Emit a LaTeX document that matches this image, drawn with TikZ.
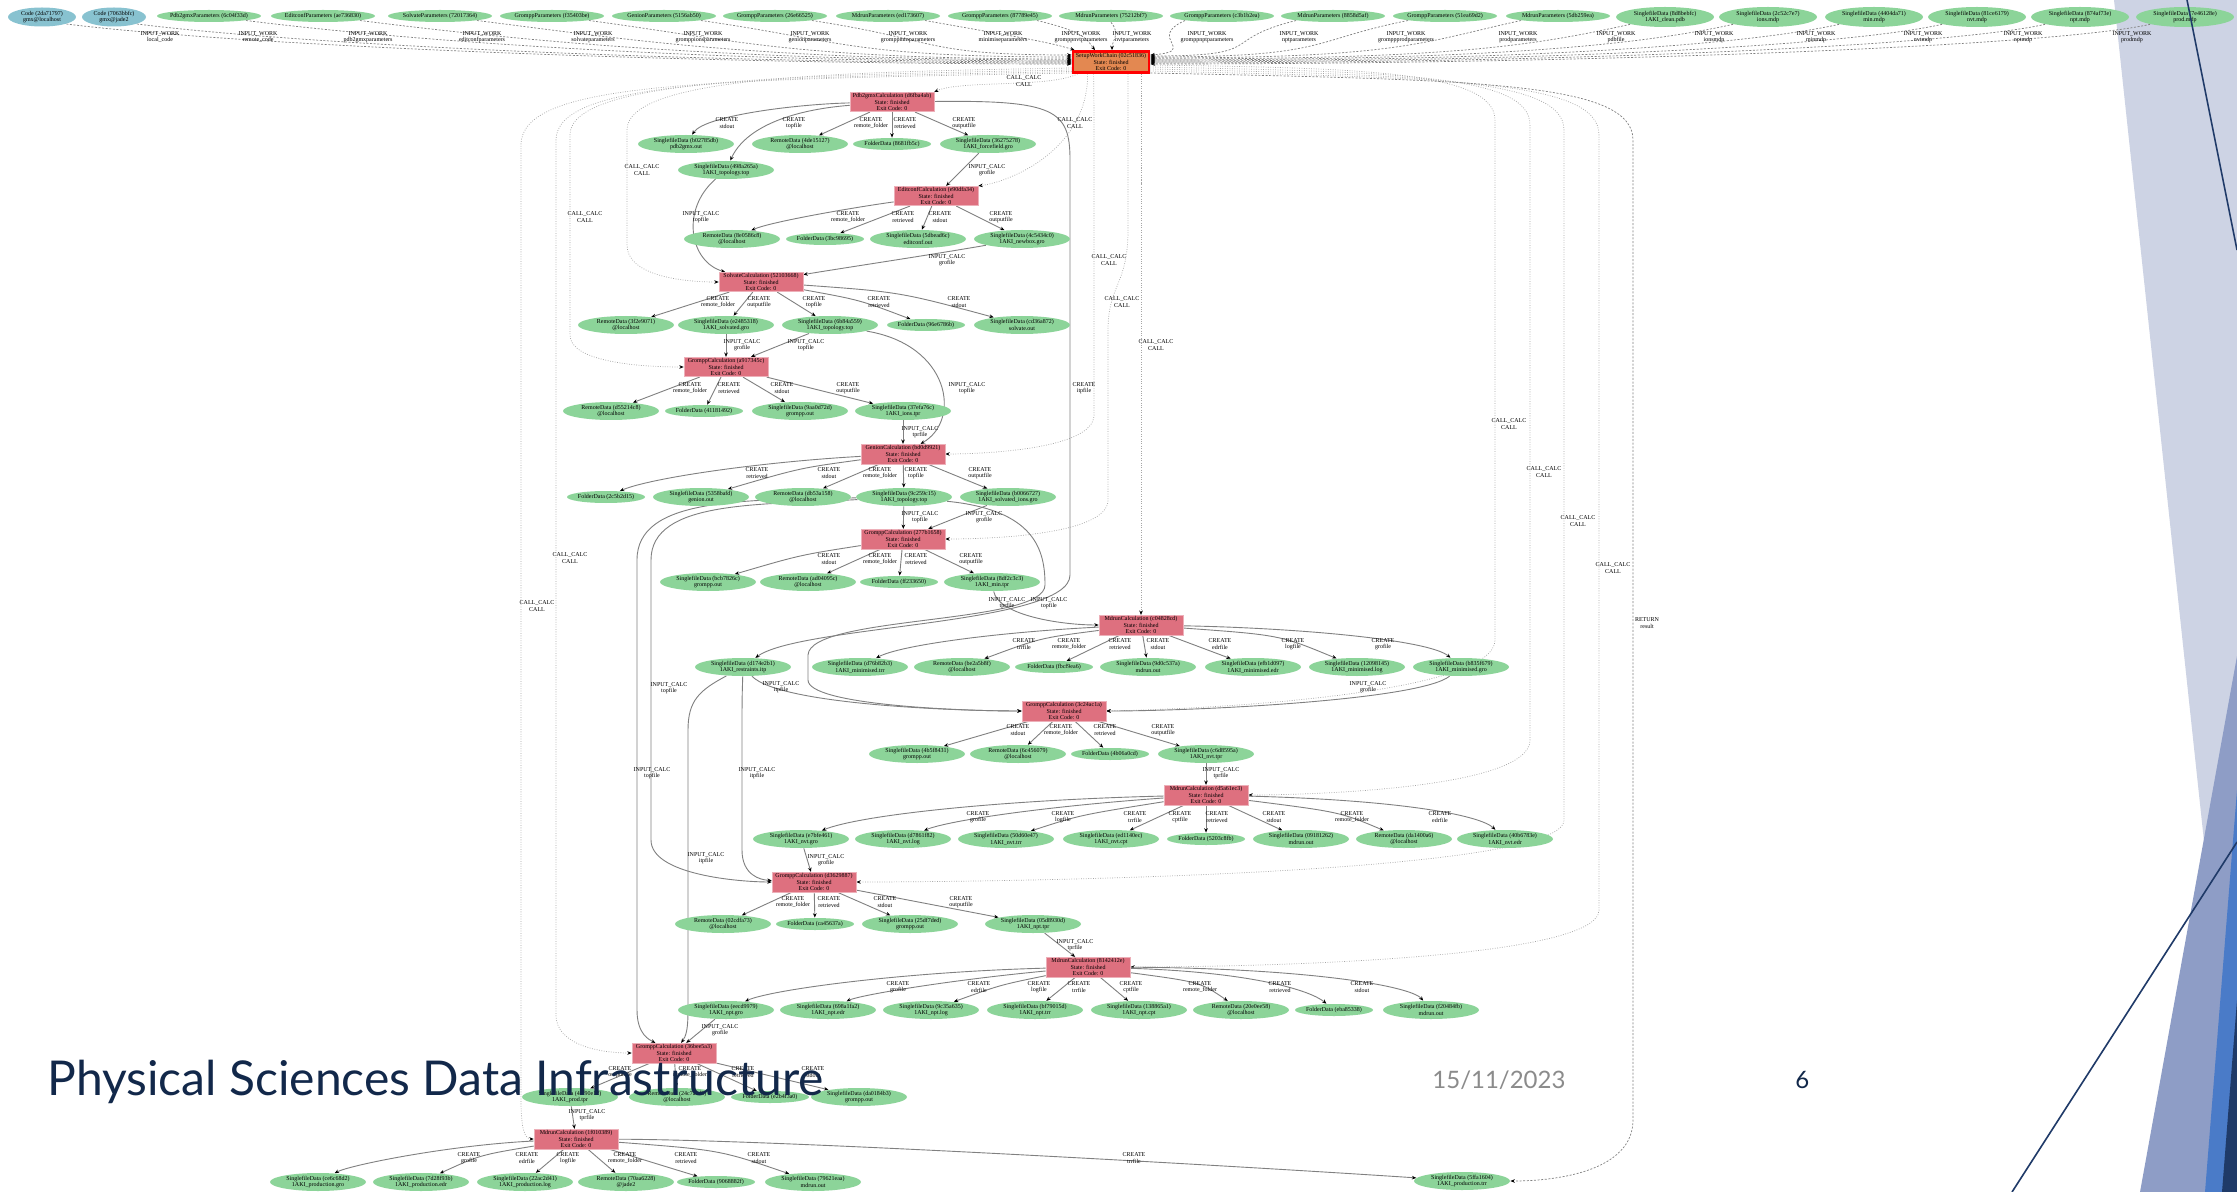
\documentclass[tikz,border=0pt]{standalone}
\usepackage{fontspec}
\setmainfont{Liberation Serif}
\newfontfamily\latofont{Lato}
\usetikzlibrary{arrows.meta,calc,shapes.geometric}
\pgfdeclarelayer{deco}
\pgfdeclarelayer{edges}
\pgfsetlayers{deco,edges,main}
\definecolor{datg}{HTML}{8CD499}
\definecolor{calcr}{HTML}{DE707F}
\definecolor{wforg}{HTML}{E38851}
\definecolor{codeb}{HTML}{88C2D0}
\definecolor{navy}{HTML}{12284A}
\definecolor{lav}{HTML}{CDD3E4}
\definecolor{steel}{HTML}{8E9DC6}
\definecolor{brblue}{HTML}{4A7BC8}
\definecolor{dnavy}{HTML}{1F3A68}
\definecolor{dategray}{HTML}{8B8B8B}
\newcommand\gf{\fontsize{3}{3.3}\selectfont}
\newcommand\datN[4]{\node[dat] (#1) at (#2) {#3\\#4};}
\newcommand\foldN[3]{\node[dat1] (#1) at (#2) {#3};}
\newcommand\calcN[3]{\node[calcbox] (#1) at (#2) {#3\\State: finished\\Exit Code: 0};}
\newcommand\labC[3]{\node[lbl] (#1) at (#2) {CREATE\\#3};}
\newcommand\labI[3]{\node[lbl] (#1) at (#2) {INPUT\_CALC\\#3};}
\newcommand\labW[3]{\node[lbl] (#1) at (#2) {INPUT\_WORK\\#3};}
\newcommand\labK[2]{\node[lbl] (#1) at (#2) {CALL\_CALC\\CALL};}
\tikzset{
  dat/.style={ellipse,fill=datg,draw=none,inner ysep=0pt,inner xsep=-3pt,minimum width=48pt,minimum height=9pt,align=center,font=\gf},
  dat1/.style={dat,minimum width=39pt,minimum height=6pt},
  parnode/.style={dat,inner xsep=-4pt,minimum width=52pt,minimum height=6pt},
  tfile/.style={dat,minimum width=49pt,minimum height=10pt},
  codenode/.style={dat,fill=codeb,minimum width=34pt,minimum height=9.5pt},
  calcbox/.style={rectangle,fill=calcr,draw=calcr!55!white,line width=0.3pt,inner sep=0pt,minimum width=42pt,minimum height=9.8pt,align=center,font=\gf},
  wfbox/.style={rectangle,fill=wforg,draw=red,line width=1.4pt,inner sep=0pt,minimum width=38pt,minimum height=10.5pt,align=center,font=\gf},
  lbl/.style={inner sep=0pt,align=center,font=\gf},
  arrtip/.style={-{Stealth[length=2.2pt,width=1.8pt,color=black]}},
  cr/.style={arrtip,draw=black!50,line width=0.45pt},
  wk/.style={arrtip,draw=black!50,line width=0.35pt,dash pattern=on 1pt off 0.8pt},
  cl/.style={arrtip,draw=black!35,line width=0.35pt,dash pattern=on 0.4pt off 0.8pt},
}
\begin{document}
\begin{tikzpicture}[x=0.5pt,y=-0.5pt]
\useasboundingbox (0,0) rectangle (2237,1192);
\begin{pgfonlayer}{deco}
\fill[white] (0,0) rectangle (2237,1192);
\fill[lav] (2114,0) -- (2237,0) -- (2237,1150) -- cycle;
\fill[steel] (2140,1192) -- (2237,656) -- (2237,1192) -- cycle;
\fill[brblue] (2205,1192) -- (2237,790) -- (2237,1192) -- cycle;
\fill[dnavy] (2222,1192) -- (2237,1000) -- (2237,1192) -- cycle;
\end{pgfonlayer}

% ---------- top row ----------
\node[codenode] (t1) at (42,17) {Code (2da71797)\\gmx@localhost};
\node[codenode,minimum width=32pt] (t2) at (114,17) {Code (7063bbfc)\\gmx@jade2};
\node[parnode] (t3) at (209,16) {Pdb2gmxParameters (6c04f33d)};
\node[parnode] (t4) at (323,16) {EditconfParameters (ae736830)};
\node[parnode] (t5) at (440,16) {SolvateParameters (72017364)};
\node[parnode] (t6) at (552,16) {GromppParameters (f35403be)};
\node[parnode] (t7) at (664,16) {GenionParameters (5156ab50)};
\node[parnode] (t8) at (775,16) {GromppParameters (26e66525)};
\node[parnode] (t9) at (888,16) {MdrunParameters (ed173607)};
\node[parnode] (t10) at (1000,16) {GromppParameters (87789e45)};
\node[parnode] (t11) at (1111,16) {MdrunParameters (75212bf7)};
\node[parnode] (t12) at (1222,16) {GromppParameters (c3b1b2ea)};
\node[parnode] (t13) at (1333,16) {MdrunParameters (8858d5af)};
\node[parnode] (t14) at (1445,16) {GromppParameters (51ea69d2)};
\node[parnode] (t15) at (1558,16) {MdrunParameters (5db259ea)};
\node[tfile] (t16) at (1665,17) {SinglefileData (8d8bebfc)\\1AKI\_clean.pdb};
\node[tfile] (t17) at (1768,17) {SinglefileData (2c52c7e7)\\ions.mdp};
\node[tfile] (t18) at (1874,17) {SinglefileData (4404da71)\\min.mdp};
\node[tfile] (t19) at (1977,17) {SinglefileData (81ce6179)\\nvt.mdp};
\node[tfile] (t20) at (2080,17) {SinglefileData (874af73e)\\npt.mdp};
\node[tfile] (t21) at (2185,17) {SinglefileData (7e46128e)\\prod.mdp};

\node[wfbox] (sw) at (1111,62) {SetupWorkChain (02c51836)\\State: finished\\Exit Code: 0};

\labW{w1}{160,37}{local\_code}
\labW{w2}{258,37}{remote\_code}
\labW{w3}{368,37}{pdb2gmxparameters}
\labW{w4}{482,37}{editconfparameters}
\labW{w5}{593,37}{solvateparameters}
\labW{w6}{703,37}{gromppionsparameters}
\labW{w7}{810,37}{genionparameters}
\labW{w8}{908,37}{gromppminparameters}
\labW{w9}{1003,37}{minimiseparameters}
\labW{w10}{1081,37}{gromppnvtparameters}
\labW{w11}{1132,37}{nvtparameters}
\labW{w12}{1207,37}{gromppnptparameters}
\labW{w13}{1299,37}{nptparameters}
\labW{w14}{1406,37}{gromppprodparameters}
\labW{w15}{1518,37}{prodparameters}
\labW{w16}{1616,37}{pdbfile}
\labW{w17}{1714,37}{ionsmdp}
\labW{w18}{1816,37}{minmdp}
\labW{w19}{1923,37}{nvtmdp}
\labW{w20}{2023,37}{nptmdp}
\labW{w21}{2132,37}{prodmdp}

% ---------- pdb2gmx ----------
\calcN{pdb}{892,102}{Pdb2gmxCalculation (d6fba4ab)}
\datN{pout}{686,144}{SinglefileData (b02785db)}{pdb2gmx.out}
\datN{prem}{800,144}{RemoteData (4de15127)}{@localhost}
\foldN{pfold}{892,144}{FolderData (8681fb5c)}
\datN{pgro}{988,144}{SinglefileData (36275278)}{1AKI\_forcefield.gro}
\datN{ptop}{726,170}{SinglefileData (498a265a)}{1AKI\_topology.top}
\labC{lp1}{727,123}{stdout}
\labC{lp2}{794,123}{topfile}
\labC{lp3}{871,123}{remote\_folder}
\labC{lp4}{905,123}{retrieved}
\labC{lp5}{964,123}{outputfile}
\labC{lpi}{1084,388}{itpfile}

% ---------- editconf ----------
\calcN{ed}{936,196}{EditconfCalculation (e90dfa34)}
\labI{le0}{987,170}{grofile}
\datN{erem}{732,239}{RemoteData (8e0586c8)}{@localhost}
\foldN{efold}{825,239}{FolderData (3bc98695)}
\datN{eout}{918,239}{SinglefileData (5dbead6c)}{editconf.out}
\datN{egro}{1022,239}{SinglefileData (4c5434c0)}{1AKI\_newbox.gro}
\labC{le1}{848,217}{remote\_folder}
\labC{le2}{903,217}{retrieved}
\labC{le3}{940,217}{stdout}
\labC{le4}{1001,217}{outputfile}

% ---------- solvate ----------
\calcN{solv}{761,282}{SolvateCalculation (52103668)}
\labI{ls0}{701,217}{topfile}
\labI{ls00}{947,260}{grofile}
\datN{srem}{626,325}{RemoteData (3f2e9071)}{@localhost}
\datN{sgro}{726,325}{SinglefileData (e2485318)}{1AKI\_solvated.gro}
\datN{stop}{830,325}{SinglefileData (6b84a559)}{1AKI\_topology.top}
\foldN{sfold}{926,325}{FolderData (96e6786b)}
\datN{sout}{1022,325}{SinglefileData (cd36a872)}{solvate.out}
\labC{ls1}{718,302}{remote\_folder}
\labC{ls2}{759,302}{outputfile}
\labC{ls3}{814,302}{topfile}
\labC{ls4}{879,302}{retrieved}
\labC{ls5}{959,302}{stdout}

% ---------- grompp ions ----------
\calcN{gi}{726,367}{GromppCalculation (a917345c)}
\labI{lg0}{742,345}{grofile}
\labI{lg00}{806,345}{topfile}
\datN{girem}{611,411}{RemoteData (d55214c8)}{@localhost}
\foldN{gifold}{704,411}{FolderData (41181492)}
\datN{giout}{800,411}{SinglefileData (9aa0d72d)}{grompp.out}
\datN{gitpr}{903,411}{SinglefileData (37efa76c)}{1AKI\_ions.tpr}
\labC{lg1}{690,388}{remote\_folder}
\labC{lg2}{729,388}{retrieved}
\labC{lg3}{782,388}{stdout}
\labC{lg4}{848,388}{outputfile}

% ---------- genion ----------
\calcN{gen}{903,454}{GenionCalculation (bd0d9921)}
\labI{ln0}{920,432}{tprfile}
\labI{ln00}{967,388}{topfile}
\foldN{genfold}{606,497}{FolderData (2c5b2d15)}
\datN{genout}{701,497}{SinglefileData (5358bafd)}{genion.out}
\datN{genrem}{803,497}{RemoteData (db53a158)}{@localhost}
\datN{gentop}{904,497}{SinglefileData (9c259c15)}{1AKI\_topology.top}
\datN{gengro}{1008,497}{SinglefileData (b0066727)}{1AKI\_solvated\_ions.gro}
\labC{ln1}{757,473}{retrieved}
\labC{ln2}{829,473}{stdout}
\labC{ln3}{880,473}{remote\_folder}
\labC{ln4}{916,473}{topfile}
\labC{ln5}{980,473}{outputfile}

% ---------- grompp min ----------
\calcN{gmin}{903,539}{GromppCalculation (277b1658)}
\labI{lm0}{920,517}{topfile}
\labI{lm00}{984,517}{grofile}
\datN{gmout}{708,582}{SinglefileData (bcb7826c)}{grompp.out}
\datN{gmrem}{808,582}{RemoteData (ad04095c)}{@localhost}
\foldN{gmfold}{899,582}{FolderData (ff233650)}
\datN{gmtpr}{992,582}{SinglefileData (8df2c3c3)}{1AKI\_min.tpr}
\labC{lm1}{829,559}{stdout}
\labC{lm2}{880,559}{remote\_folder}
\labC{lm3}{916,559}{retrieved}
\labC{lm4}{971,559}{outputfile}

% ---------- mdrun min ----------
\calcN{mmin}{1141,625}{MdrunCalculation (c04828cd)}
\labI{lr0}{1007,603}{tprfile}
\labI{lr00}{1049,603}{topfile}
\datN{itp}{743,667}{SinglefileData (d174e2b1)}{1AKI\_restraints.itp}
\datN{mtrr}{860,667}{SinglefileData (d76b82b3)}{1AKI\_minimised.trr}
\datN{mrem}{962,667}{RemoteData (be2a5b8f)}{@localhost}
\foldN{mfold}{1054,667}{FolderData (fbcf9ea6)}
\datN{mout}{1148,667}{SinglefileData (9d0c537a)}{mdrun.out}
\datN{medr}{1253,667}{SinglefileData (efb1d097)}{1AKI\_minimised.edr}
\datN{mlog}{1357,667}{SinglefileData (12098145)}{1AKI\_minimised.log}
\datN{mgro}{1461,667}{SinglefileData (b835f679)}{1AKI\_minimised.gro}
\labC{lr1}{1024,644}{trrfile}
\labC{lr2}{1069,644}{remote\_folder}
\labC{lr3}{1120,644}{retrieved}
\labC{lr4}{1158,644}{stdout}
\labC{lr5}{1220,644}{edrfile}
\labC{lr6}{1293,644}{logfile}
\labC{lr7}{1383,644}{grofile}

% ---------- grompp nvt ----------
\calcN{gnvt}{1064,711}{GromppCalculation (3c24ac1a)}
\labI{lv0}{781,687}{itpfile}
\labI{lv00}{1368,687}{grofile}
\labI{lv000}{669,688}{topfile}
\datN{gnout}{917,754}{SinglefileData (4b5f8431)}{grompp.out}
\datN{gnrem}{1018,754}{RemoteData (6c456079)}{@localhost}
\foldN{gnfold}{1110,754}{FolderData (4b06a0cd)}
\datN{gntpr}{1206,754}{SinglefileData (c6d8595a)}{1AKI\_nvt.tpr}
\labC{lv1}{1018,730}{stdout}
\labC{lv2}{1061,730}{remote\_folder}
\labC{lv3}{1105,730}{retrieved}
\labC{lv4}{1163,730}{outputfile}

% ---------- mdrun nvt ----------
\calcN{mnvt}{1206,795}{MdrunCalculation (d5a61ec3)}
\labI{lx0}{1221,773}{tprfile}
\datN{ngro}{801,839}{SinglefileData (e7bfe461)}{1AKI\_nvt.gro}
\datN{nlog}{903,839}{SinglefileData (d7861f82)}{1AKI\_nvt.log}
\datN{ntrr}{1006,839}{SinglefileData (50d60e47)}{1AKI\_nvt.trr}
\datN{ncpt}{1111,839}{SinglefileData (ed1140ec)}{1AKI\_nvt.cpt}
\foldN{nfold}{1206,839}{FolderData (5203c8fb)}
\datN{nout}{1301,839}{SinglefileData (09181262)}{mdrun.out}
\datN{nrem}{1404,839}{RemoteData (da1400a6)}{@localhost}
\datN{nedr}{1505,839}{SinglefileData (40b6783e)}{1AKI\_nvt.edr}
\labC{lx1}{978,817}{grofile}
\labC{lx2}{1063,817}{logfile}
\labC{lx3}{1135,817}{trrfile}
\labC{lx4}{1180,817}{cptfile}
\labC{lx5}{1217,817}{retrieved}
\labC{lx6}{1274,817}{stdout}
\labC{lx7}{1352,817}{remote\_folder}
\labC{lx8}{1440,817}{edrfile}

% ---------- grompp npt ----------
\calcN{gnpt}{814,882}{GromppCalculation (d3629887)}
\labI{ly0}{826,860}{grofile}
\labI{ly00}{757,773}{itpfile}
\labI{ly000}{652,773}{topfile}
\datN{gprem}{723,924}{RemoteData (02cdfa73)}{@localhost}
\foldN{gpfold}{815,924}{FolderData (ca45637a)}
\datN{gpout}{910,924}{SinglefileData (25df7ded)}{grompp.out}
\datN{gptpr}{1033,924}{SinglefileData (05d8930d)}{1AKI\_npt.tpr}
\labC{ly1}{793,902}{remote\_folder}
\labC{ly2}{829,902}{retrieved}
\labC{ly3}{885,902}{stdout}
\labC{ly4}{961,902}{outputfile}

% ---------- mdrun npt ----------
\calcN{mnpt}{1088,967}{MdrunCalculation (8142412e)}
\labI{lz0}{1075,945}{tprfile}
\datN{tgro}{726,1010}{SinglefileData (eecd9979)}{1AKI\_npt.gro}
\datN{tedr}{828,1010}{SinglefileData (698a1fa2)}{1AKI\_npt.edr}
\datN{tlog}{931,1010}{SinglefileData (9c35a635)}{1AKI\_npt.log}
\datN{ttrr}{1035,1010}{SinglefileData (bf79015d)}{1AKI\_npt.trr}
\datN{tcpt}{1139,1010}{SinglefileData (138865a1)}{1AKI\_npt.cpt}
\datN{trem}{1241,1010}{RemoteData (20e0ee58)}{@localhost}
\foldN{tfold}{1334,1010}{FolderData (eba85338)}
\datN{tout}{1431,1010}{SinglefileData (f20484fb)}{mdrun.out}
\labC{lz1}{898,987}{grofile}
\labC{lz2}{979,987}{edrfile}
\labC{lz3}{1039,987}{logfile}
\labC{lz4}{1079,987}{trrfile}
\labC{lz5}{1131,987}{cptfile}
\labC{lz6}{1200,987}{remote\_folder}
\labC{lz7}{1280,987}{retrieved}
\labC{lz8}{1362,987}{stdout}

% ---------- grompp prod ----------
\calcN{gprod}{674,1053}{GromppCalculation (36bee5a3)}
\labI{lq0}{720,1030}{grofile}
\labI{lq00}{706,858}{itpfile}
\datN{qtpr}{570,1097}{SinglefileData (4af90e12)}{1AKI\_prod.tpr}
\datN{qrem}{677,1097}{RemoteData (24c7a1d5)}{@localhost}
\foldN{qfold}{770,1097}{FolderData (e2b4f3a0)}
\datN{qout}{859,1097}{SinglefileData (da0184b3)}{grompp.out}
\labC{lq1}{620,1072}{outputfile}
\labC{lq2}{690,1072}{remote\_folder}
\labC{lq3}{743,1072}{retrieved}
\labC{lq4}{813,1072}{stdout}

% ---------- mdrun prod ----------
\calcN{mprod}{576,1139}{MdrunCalculation (1f010389)}
\labI{lo0}{587,1115}{tprfile}
\datN{rgro}{318,1182}{SinglefileData (ce6c68d2)}{1AKI\_production.gro}
\datN{redr}{421,1182}{SinglefileData (7d28f93b)}{1AKI\_production.edr}
\datN{rlog}{525,1182}{SinglefileData (22ac2d41)}{1AKI\_production.log}
\datN{rrem}{626,1182}{RemoteData (70aa6228)}{@jade2}
\foldN{rfold}{716,1182}{FolderData (9068882f)}
\datN{rout}{813,1182}{SinglefileData (79621eaa)}{mdrun.out}
\datN{rtrr}{1462,1181}{SinglefileData (5ffa1604)}{1AKI\_production.trr}
\labC{lo1}{469,1158}{grofile}
\labC{lo2}{527,1158}{edrfile}
\labC{lo3}{568,1158}{logfile}
\labC{lo4}{625,1158}{remote\_folder}
\labC{lo5}{686,1158}{retrieved}
\labC{lo6}{759,1158}{stdout}
\labC{lo7}{1134,1158}{trrfile}

% ---------- call labels ----------
\labK{k1}{1024,81}
\labK{k2}{1075,123}
\labK{k3}{642,170}
\labK{k4}{585,217}
\labK{k5}{1109,260}
\labK{k6}{1122,302}
\labK{k7}{1156,345}
\labK{k8}{1509,424}
\labK{k9}{1544,472}
\labK{k10}{1578,521}
\labK{k11}{1613,568}
\labK{k12}{570,558}
\labK{k13}{537,606}
\node[lbl] (kret) at (1647,623) {RETURN\\result};

\begin{pgfonlayer}{edges}
% INPUT_WORK
\draw[wk] (t1.south east) .. controls +(160,20) and +(-420,0) .. ($(sw.west)+(0,2)$);
\draw[wk] (t2.south east) .. controls +(160,20) and +(-400,0) .. ($(sw.west)+(0,1)$);
\draw[wk] (t3.south east) .. controls +(160,20) and +(-380,0) .. ($(sw.west)+(0,0)$);
\draw[wk] (t4.south east) .. controls +(160,20) and +(-350,0) .. ($(sw.west)+(0,-1)$);
\draw[wk] (t5.south east) .. controls +(160,20) and +(-320,0) .. ($(sw.west)+(0,-2)$);
\draw[wk] (t6.south east) .. controls +(150,20) and +(-280,0) .. ($(sw.west)+(0,-3)$);
\draw[wk] (t7.south east) .. controls +(140,20) and +(-220,0) .. ($(sw.west)+(0,-5)$);
\draw[wk] (t8.south east) .. controls +(130,20) and +(-150,0) .. ($(sw.west)+(0,-7)$);
\draw[wk] (t9.south east) .. controls +(90,16) and +(-25,-8) .. ($(sw.north west)+(3,0)$);
\draw[wk] (t10.south east) .. controls +(50,12) and +(-8,-10) .. ($(sw.north)+(-16,0)$);
\draw[wk] (t11.south) .. controls +(10,12) and +(0,-10) .. ($(sw.north)+(1,0)$);
\draw[wk] (t12.south west) .. controls +(-40,18) and +(50,-4) .. ($(sw.east)+(0,-7)$);
\draw[wk] (t13.south west) .. controls +(-80,20) and +(120,0) .. ($(sw.east)+(0,-6)$);
\draw[wk] (t14.south west) .. controls +(-100,20) and +(180,0) .. ($(sw.east)+(0,-5)$);
\draw[wk] (t15.south west) .. controls +(-100,22) and +(250,0) .. ($(sw.east)+(0,-4)$);
\draw[wk] (t16.south west) .. controls +(-100,22) and +(300,0) .. ($(sw.east)+(0,-3)$);
\draw[wk] (t17.south west) .. controls +(-100,22) and +(330,0) .. ($(sw.east)+(0,-2)$);
\draw[wk] (t18.south west) .. controls +(-100,22) and +(360,0) .. ($(sw.east)+(0,-1)$);
\draw[wk] (t19.south west) .. controls +(-100,22) and +(390,0) .. ($(sw.east)+(0,0)$);
\draw[wk] (t20.south west) .. controls +(-100,22) and +(420,0) .. ($(sw.east)+(0,1)$);
\draw[wk] (t21.south west) .. controls +(-100,22) and +(450,0) .. ($(sw.east)+(0,2)$);

% CALL edges
\draw[cl] ($(sw.south west)+(6,0)$) .. controls (1050,88) and (960,80) .. (pdb.north east);
\draw[cl] ($(sw.south west)+(16,0)$) .. controls (1088,150) and (1010,182) .. (ed.north east);
\draw[cl] ($(sw.south west)+(22,0)$) .. controls (1094,110) .. (1094,200) -- (1094,415) .. controls (1094,450) and (980,454) .. (gen.east);
\draw[cl] ($(sw.south)+(17,0)$) .. controls (1128,140) .. (1128,230) .. controls (1128,285) and (1108,285) .. (1108,330) -- (1108,500) .. controls (1108,535) and (990,539) .. (gmin.east);
\draw[cl] ($(sw.south)+(30,0)$) .. controls (1141,120) .. (1141,200) -- (mmin.north);
\draw[cl] ($(sw.east)+(0,3)$) .. controls (1350,68) and (1495,70) .. (1495,120) -- (1495,640) .. controls (1495,690) and (1250,708) .. (gnvt.east);
\draw[cl] ($(sw.east)+(0,5)$) .. controls (1400,72) and (1530,75) .. (1530,125) -- (1530,740) .. controls (1530,790) and (1300,795) .. (mnvt.east);
\draw[cl] ($(sw.east)+(0,7)$) .. controls (1420,75) and (1564,78) .. (1564,130) -- (1564,820) .. controls (1564,875) and (1000,882) .. (gnpt.east);
\draw[cl] ($(sw.east)+(0,9)$) .. controls (1450,78) and (1599,80) .. (1599,135) -- (1599,910) .. controls (1599,960) and (1250,967) .. (mnpt.east);
\draw[wk] ($(sw.east)+(0,11)$) .. controls (1480,80) and (1633,82) .. (1633,140) -- (1633,1120) .. controls (1633,1170) and (1560,1181) .. (rtrr.east);
\draw[cl] ($(sw.west)+(0,6)$) .. controls (850,72) and (627,75) .. (627,130) -- (627,245) .. controls (627,275) and (680,282) .. (solv.west);
\draw[cl] ($(sw.west)+(0,8)$) .. controls (800,75) and (570,78) .. (570,135) -- (570,335) .. controls (570,362) and (640,367) .. (gi.west);
\draw[cl] ($(sw.west)+(0,9.5)$) .. controls (750,78) and (556,80) .. (556,140) -- (556,1015) .. controls (556,1045) and (600,1053) .. (gprod.west);
\draw[cl] ($(sw.west)+(0,11)$) .. controls (700,80) and (521,82) .. (521,145) -- (521,1100) .. controls (521,1130) and (525,1139) .. (mprod.west);

% pdb2gmx
\draw[cr] (pdb) .. controls (800,104) and (705,115) .. (pout);
\draw[cr] (pdb) .. controls (790,110) and (745,128) .. (ptop);
\draw[cr] (pdb) -- (prem);
\draw[cr] (pdb) -- (pfold);
\draw[cr] (pdb) -- (pgro);
\draw[cr] (pdb) .. controls (1055,100) and (1070,110) .. (1070,160) -- (1070,575) .. controls (1070,625) and (800,625) .. (itp);
% editconf
\draw[cr] (pgro) -- (ed);
\draw[cr] (ed) .. controls (850,208) and (770,222) .. (erem);
\draw[cr] (ed) -- (efold);
\draw[cr] (ed) -- (eout);
\draw[cr] (ed) -- (egro);
% solvate
\draw[cr] (ptop) .. controls (680,210) and (690,262) .. (solv);
\draw[cr] (egro) .. controls (930,255) and (830,270) .. (solv);
\draw[cr] (solv) -- (srem);
\draw[cr] (solv) -- (sgro);
\draw[cr] (solv) -- (stop);
\draw[cr] (solv) .. controls (860,300) .. (sfold);
\draw[cr] (solv) .. controls (900,292) .. (sout);
% grompp ions
\draw[cr] (sgro) -- (gi);
\draw[cr] (stop) -- (gi);
\draw[cr] (gi) -- (girem);
\draw[cr] (gi) -- (gifold);
\draw[cr] (gi) -- (giout);
\draw[cr] (gi) -- (gitpr);
% genion
\draw[cr] (gitpr) -- (gen);
\draw[cr] (stop) .. controls (950,345) and (962,420) .. (gen);
\draw[cr] (gen) .. controls (760,462) and (650,478) .. (genfold);
\draw[cr] (gen) .. controls (800,468) .. (genout);
\draw[cr] (gen) -- (genrem);
\draw[cr] (gen) -- (gentop);
\draw[cr] (gen) -- (gengro);
% grompp min
\draw[cr] (gentop) -- (gmin);
\draw[cr] (gengro) -- (gmin);
\draw[cr] (gmin) .. controls (800,555) .. (gmout);
\draw[cr] (gmin) -- (gmrem);
\draw[cr] (gmin) -- (gmfold);
\draw[cr] (gmin) -- (gmtpr);
% mdrun min
\draw[cr] (gmtpr) .. controls (998,615) and (1060,625) .. (mmin);
\draw[cr] (mmin) .. controls (1000,632) and (900,645) .. (mtrr);
\draw[cr] (mmin) .. controls (1040,638) .. (mrem);
\draw[cr] (mmin) -- (mfold);
\draw[cr] (mmin) -- (mout);
\draw[cr] (mmin) -- (medr);
\draw[cr] (mmin) .. controls (1280,635) .. (mlog);
\draw[cr] (mmin) .. controls (1300,628) and (1430,640) .. (mgro);
% grompp nvt
\draw[cr] (gentop) .. controls (1035,510) and (1045,550) .. (1045,585) .. controls (1045,625) and (810,615) .. (808,655) -- (808,680) .. controls (808,705) and (960,711) .. (gnvt);
\draw[cr] (itp) .. controls (780,705) and (960,711) .. (gnvt);
\draw[cr] (mgro) .. controls (1420,700) and (1200,711) .. (gnvt);
\draw[cr] (gnvt) -- (gnout);
\draw[cr] (gnvt) -- (gnrem);
\draw[cr] (gnvt) -- (gnfold);
\draw[cr] (gnvt) -- (gntpr);
% mdrun nvt
\draw[cr] (gntpr) -- (mnvt);
\draw[cr] (mnvt) .. controls (1000,800) and (860,815) .. (ngro);
\draw[cr] (mnvt) .. controls (1050,806) and (950,820) .. (nlog);
\draw[cr] (mnvt) .. controls (1080,815) .. (ntrr);
\draw[cr] (mnvt) -- (ncpt);
\draw[cr] (mnvt) -- (nfold);
\draw[cr] (mnvt) -- (nout);
\draw[cr] (mnvt) .. controls (1340,812) .. (nrem);
\draw[cr] (mnvt) .. controls (1400,800) and (1480,815) .. (nedr);
% grompp npt
\draw[cr] (ngro) -- (gnpt);
\draw[cr] (gentop) .. controls (760,505) and (651,500) .. (651,560) -- (651,840) .. controls (651,875) and (740,882) .. (gnpt);
\draw[cr] (itp) .. controls (742,700) .. (742,740) -- (742,850) .. controls (742,875) and (760,880) .. (gnpt);
\draw[cr] (gnpt) -- (gprem);
\draw[cr] (gnpt) -- (gpfold);
\draw[cr] (gnpt) -- (gpout);
\draw[cr] (gnpt) -- (gptpr);
% mdrun npt
\draw[cr] (gptpr) -- (mnpt);
\draw[cr] (mnpt) .. controls (900,972) and (770,990) .. (tgro);
\draw[cr] (mnpt) .. controls (950,980) and (860,995) .. (tedr);
\draw[cr] (mnpt) .. controls (1000,985) .. (tlog);
\draw[cr] (mnpt) -- (ttrr);
\draw[cr] (mnpt) -- (tcpt);
\draw[cr] (mnpt) .. controls (1200,982) .. (trem);
\draw[cr] (mnpt) .. controls (1250,972) and (1310,990) .. (tfold);
\draw[cr] (mnpt) .. controls (1300,968) and (1410,985) .. (tout);
% grompp prod
\draw[cr] (tgro) -- (gprod);
\draw[cr] (gentop) .. controls (740,500) and (637,498) .. (637,560) -- (637,1010) .. controls (637,1035) and (650,1040) .. (gprod);
\draw[cr] (itp) .. controls (700,690) and (688,700) .. (688,730) -- (688,1010) .. controls (688,1030) and (686,1036) .. (gprod);
\draw[cr] (gprod) -- (qtpr);
\draw[cr] (gprod) -- (qrem);
\draw[cr] (gprod) -- (qfold);
\draw[cr] (gprod) -- (qout);
% mdrun prod
\draw[cr] (qtpr) -- (mprod);
\draw[cr] (mprod) .. controls (450,1145) and (350,1165) .. (rgro);
\draw[cr] (mprod) .. controls (480,1155) .. (redr);
\draw[cr] (mprod) -- (rlog);
\draw[cr] (mprod) -- (rrem);
\draw[cr] (mprod) -- (rfold);
\draw[cr] (mprod) .. controls (720,1150) .. (rout);
\draw[cr] (mprod) .. controls (800,1140) and (1300,1170) .. (rtrr);
\end{pgfonlayer}

% ---------- slide overlay ----------
\node[font=\latofont\fontsize{24}{28}\selectfont,text=navy,anchor=base west,inner sep=0pt] (title) at (47,1095) {Physical Sciences Data Infrastructure};
\node[font=\latofont\fontsize{12}{14}\selectfont,text=dategray,anchor=base west,inner sep=0pt] (date) at (1432,1088) {15/11/2023};
\node[font=\latofont\fontsize{12}{14}\selectfont,text=navy,anchor=base west,inner sep=0pt] (pnum) at (1795,1088) {6};
\draw[dnavy,line width=0.8pt] (2187,0) -- (2237,250);
\draw[dnavy,line width=0.8pt] (2012,1192) -- (2237,842);
\end{tikzpicture}
\end{document}
